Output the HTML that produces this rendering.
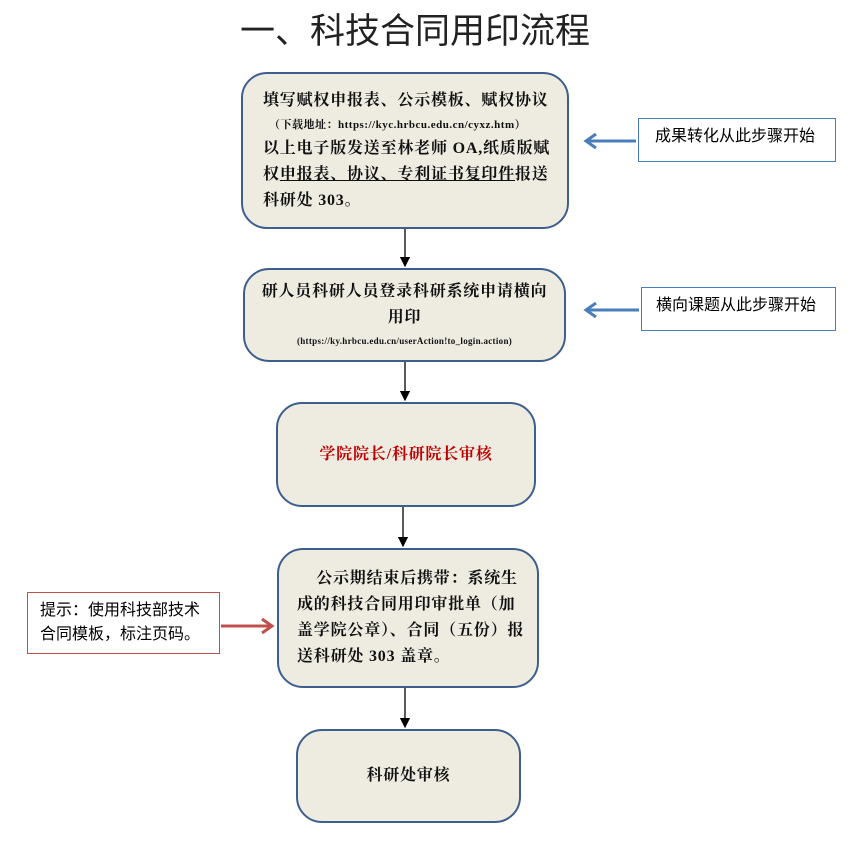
<!DOCTYPE html>
<html><head><meta charset="utf-8"><style>
body{margin:0;width:857px;height:842px;background:#fff;position:relative;overflow:hidden;font-family:"Liberation Serif","Noto Serif CJK SC",serif;}
.b{position:absolute;box-sizing:border-box;background:#eeece1;border:2px solid #3e5f8e;border-radius:26px;display:flex;flex-direction:column;justify-content:center;align-items:center;text-align:center;font-weight:bold;font-size:16px;letter-spacing:0.8px;color:#111;line-height:26px;white-space:nowrap;}
.l{position:absolute;box-sizing:border-box;background:#fff;font-family:"Liberation Sans","Noto Sans CJK SC",sans-serif;font-size:16px;line-height:24px;padding:6px 12px;}
.t{position:absolute;left:0;width:830px;text-align:center;top:3px;font-size:35px;font-family:"Liberation Sans","Noto Sans CJK SC",sans-serif;color:#222;}
</style></head><body>
<div class="t">一、科技合同用印流程</div>
<div class="b" style="left:241px;top:72px;width:328px;height:157px;text-align:left;align-items:flex-start;padding:0 20px;">
<div>填写赋权申报表、公示模板、赋权协议</div>
<div style="font-size:11px;line-height:22px;padding-left:6px;letter-spacing:0.5px">（下载地址：https://kyc.hrbcu.edu.cn/cyxz.htm）</div>
<div>以上电子版发送至林老师 OA,纸质版赋</div>
<div>权<span style="text-decoration:underline">申报表、协议、专利证书复印件</span>报送</div>
<div>科研处 303。</div>
</div>
<div class="b" style="left:243px;top:268px;width:323px;height:94px;">
<div>研人员科研人员登录科研系统申请横向</div><div>用印</div>
<div style="font-size:9px;line-height:20px;letter-spacing:0.3px">(https://ky.hrbcu.edu.cn/userAction!to_login.action)</div>
</div>
<div class="b" style="left:276px;top:402px;width:260px;height:105px;color:#c00000;">学院院长/科研院长审核</div>
<div class="b" style="left:277px;top:548px;width:262px;height:140px;text-align:left;align-items:flex-start;padding:0 18px;">
<div>&nbsp;&nbsp;&nbsp;&nbsp;公示期结束后携带：系统生</div><div>成的科技合同用印审批单（加</div><div>盖学院公章）、合同（五份）报</div><div>送科研处 303 盖章。</div>
</div>
<div class="b" style="left:296px;top:729px;width:225px;height:94px;">科研处审核</div>
<div class="l" style="left:638px;top:118px;width:198px;height:44px;border:1px solid #4a7ebb;padding-left:16px;">成果转化从此步骤开始</div>
<div class="l" style="left:641px;top:287px;width:195px;height:44px;border:1px solid #4a7ebb;padding-left:14px;">横向课题从此步骤开始</div>
<div class="l" style="left:27px;top:592px;width:193px;height:62px;border:1px solid #c0504d;padding-top:6px;">提示：使用科技部技术合同模板，标注页码。</div>
<svg width="857" height="842" style="position:absolute;left:0;top:0">
<defs><marker id="a" markerWidth="8" markerHeight="8" refX="7" refY="4" orient="auto"><path d="M0,0L8,4L0,8z" fill="#000"/></marker></defs>
<g stroke="#000" stroke-width="1.3" marker-end="url(#a)">
<line x1="405" y1="229" x2="405" y2="266"/><line x1="405" y1="362" x2="405" y2="400"/><line x1="403" y1="507" x2="403" y2="546"/><line x1="405" y1="688" x2="405" y2="727"/></g>
<g stroke="#4a7ebb" stroke-width="3" fill="none"><line x1="636" y1="141" x2="588" y2="141"/><polyline points="596,134 586,141 596,148"/><line x1="639" y1="310" x2="588" y2="310"/><polyline points="596,303 586,310 596,317"/></g>
<g stroke="#c0504d" stroke-width="3" fill="none"><line x1="221" y1="626" x2="270" y2="626"/><polyline points="262,619 272,626 262,633"/></g>
</svg>
</body></html>
